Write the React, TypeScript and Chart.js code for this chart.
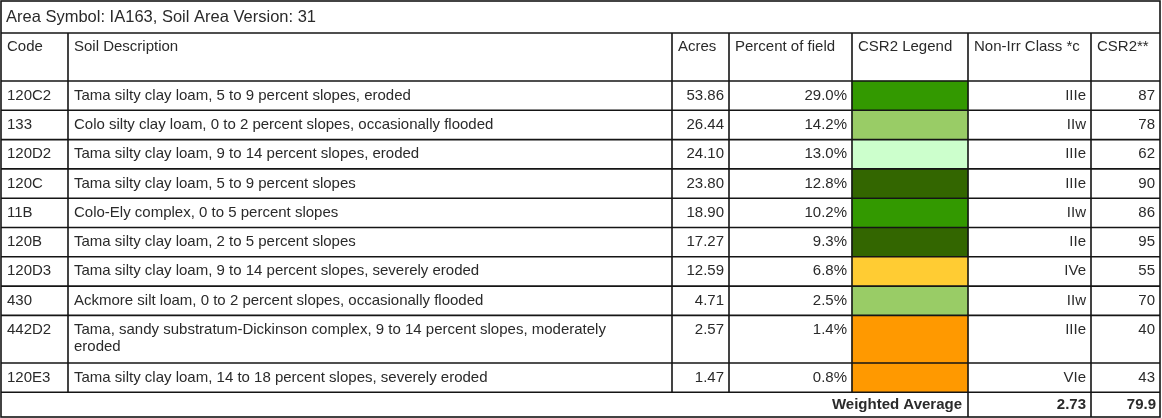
import React, { useEffect, useRef } from 'react';
import { Chart, registerables } from 'chart.js';

Chart.register(...registerables);

// ---------- data ----------
const title = 'Area Symbol: IA163, Soil Area Version: 31';
const headers = ['Code', 'Soil Description', 'Acres', 'Percent of field', 'CSR2 Legend', 'Non-Irr Class *c', 'CSR2**'];
const codes = ['120C2', '133', '120D2', '120C', '11B', '120B', '120D3', '430', '442D2', '120E3'];
const descriptions = [
  'Tama silty clay loam, 5 to 9 percent slopes, eroded',
  'Colo silty clay loam, 0 to 2 percent slopes, occasionally flooded',
  'Tama silty clay loam, 9 to 14 percent slopes, eroded',
  'Tama silty clay loam, 5 to 9 percent slopes',
  'Colo-Ely complex, 0 to 5 percent slopes',
  'Tama silty clay loam, 2 to 5 percent slopes',
  'Tama silty clay loam, 9 to 14 percent slopes, severely eroded',
  'Ackmore silt loam, 0 to 2 percent slopes, occasionally flooded',
  'Tama, sandy substratum-Dickinson complex, 9 to 14 percent slopes, moderately eroded',
  'Tama silty clay loam, 14 to 18 percent slopes, severely eroded',
];
const acres = [53.86, 26.44, 24.1, 23.8, 18.9, 17.27, 12.59, 4.71, 2.57, 1.47];
const percentOfField = [29.0, 14.2, 13.0, 12.8, 10.2, 9.3, 6.8, 2.5, 1.4, 0.8];
const nonIrrClass = ['IIIe', 'IIw', 'IIIe', 'IIIe', 'IIw', 'IIe', 'IVe', 'IIw', 'IIIe', 'VIe'];
const csr2 = [87, 78, 62, 90, 86, 95, 55, 70, 40, 43];
const weightedLabel = 'Weighted Average';
const weightedClass = 2.73;
const weightedCsr2 = 79.9;

// ---------- styling / layout ----------
const W = 1162;
const H = 418;
const FONT = '"Liberation Sans", Arial, Helvetica, sans-serif';
const FONT_SIZE = 15;
const TITLE_FONT_SIZE = 16.5;
const TEXT_COLOR = '#2a2a2a';
const LINE_COLOR = '#151515';
const colEdges = [1, 68, 672, 729, 852, 968, 1091, 1160];
const colAlign: ('left' | 'right')[] = ['left', 'left', 'right', 'right', 'left', 'right', 'right'];
const TOP = 1;
const TITLE_H = 32;
const HEAD_H = 48;
const ROW_H = 29.3;
const LINE_H = 18.3;
const BOTTOM = 417;
const PAD_L = 6;
const PAD_R = 5;
const TEXT_OFFSET = 14.5;
const DESC_WRAP = 545;

function legendColor(v: number): string {
  if (v >= 88) return '#336600';
  if (v >= 80) return '#339900';
  if (v >= 65) return '#99cc66';
  if (v >= 60) return '#ccffcc';
  if (v >= 50) return '#ffcc33';
  return '#ff9900';
}

function wrap(ctx: CanvasRenderingContext2D, text: string, maxW: number): string[] {
  const words = text.split(' ');
  const lines: string[] = [];
  let cur = '';
  for (const w of words) {
    const test = cur ? cur + ' ' + w : w;
    if (cur && ctx.measureText(test).width > maxW) {
      lines.push(cur);
      cur = w;
    } else {
      cur = test;
    }
  }
  if (cur) lines.push(cur);
  return lines;
}

export default function App() {
  const ref = useRef<HTMLCanvasElement | null>(null);

  useEffect(() => {
    const canvas = ref.current;
    if (!canvas) return;
    const mctx = canvas.getContext('2d')!;
    mctx.font = `${FONT_SIZE}px ${FONT}`;
    const descLines = descriptions.map((d) => wrap(mctx, d, DESC_WRAP));

    const headTop = TOP + TITLE_H;
    const bodyTop = headTop + HEAD_H;
    const rowTops: number[] = [];
    const rowBottoms: number[] = [];
    let y = bodyTop;
    descLines.forEach((lines) => {
      rowTops.push(y);
      y += ROW_H + (lines.length - 1) * LINE_H;
      rowBottoms.push(y);
    });
    const bodyBottom = y;

    const legendLeft = colEdges[4];
    const legendRight = colEdges[5];

    const tablePlugin = {
      id: 'tablePlugin',
      beforeDraw(chart: Chart) {
        const c = chart.ctx;
        c.save();
        c.fillStyle = '#ffffff';
        c.fillRect(0, 0, W, H);
        c.restore();
      },
      afterDatasetsDraw(chart: Chart) {
        const c = chart.ctx;
        c.save();
        // text
        c.fillStyle = TEXT_COLOR;
        c.textBaseline = 'middle';
        const put = (txt: string, col: number, yy: number) => {
          if (colAlign[col] === 'left') {
            c.textAlign = 'left';
            c.fillText(txt, colEdges[col] + PAD_L, yy);
          } else {
            c.textAlign = 'right';
            c.fillText(txt, colEdges[col + 1] - PAD_R, yy);
          }
        };
        c.font = `${TITLE_FONT_SIZE}px ${FONT}`;
        c.textAlign = 'left';
        c.fillText(title, colEdges[0] + PAD_L - 1, TOP + TITLE_H / 2 + 0.5);
        c.font = `${FONT_SIZE}px ${FONT}`;
        headers.forEach((h, i) => {
          c.textAlign = 'left';
          c.fillText(h, colEdges[i] + PAD_L, headTop + TEXT_OFFSET - 1);
        });
        codes.forEach((code, i) => {
          const ty = rowTops[i] + TEXT_OFFSET;
          put(code, 0, ty);
          descLines[i].forEach((ln, k) => put(ln, 1, ty + k * LINE_H * 0.92));
          put(acres[i].toFixed(2), 2, ty);
          put(percentOfField[i].toFixed(1) + '%', 3, ty);
          put(nonIrrClass[i], 5, ty);
          put(String(csr2[i]), 6, ty);
        });
        const wy = (bodyBottom + BOTTOM) / 2 + 0.5;
        c.font = `bold ${FONT_SIZE}px ${FONT}`;
        c.textAlign = 'right';
        c.fillText(weightedLabel, colEdges[5] - PAD_R - 1, wy);
        c.fillText(weightedClass.toFixed(2), colEdges[6] - PAD_R, wy);
        c.fillText(weightedCsr2.toFixed(1), colEdges[7] - PAD_R + 1, wy);

        // grid lines
        c.strokeStyle = LINE_COLOR;
        c.lineWidth = 1.6;
        const hl = (yy: number, x1 = colEdges[0], x2 = colEdges[7]) => {
          c.beginPath();
          c.moveTo(x1, yy);
          c.lineTo(x2, yy);
          c.stroke();
        };
        const vl = (xx: number, y1: number, y2: number) => {
          c.beginPath();
          c.moveTo(xx, y1);
          c.lineTo(xx, y2);
          c.stroke();
        };
        c.strokeRect(colEdges[0], TOP, colEdges[7] - colEdges[0], BOTTOM - TOP);
        hl(headTop);
        hl(bodyTop);
        rowBottoms.forEach((b) => hl(b));
        for (let i = 1; i < colEdges.length - 1; i++) vl(colEdges[i], headTop, bodyBottom);
        vl(colEdges[5], bodyBottom, BOTTOM);
        vl(colEdges[6], bodyBottom, BOTTOM);
        c.restore();
      },
    };

    const chart = new Chart(canvas, {
      type: 'bar',
      data: {
        datasets: [
          {
            label: 'CSR2 Legend',
            data: codes.map((_, i) => ({ x: (legendLeft + legendRight) / 2, y: [rowTops[i], rowBottoms[i]] })) as any,
            backgroundColor: csr2.map(legendColor),
            borderWidth: 0,
            barThickness: legendRight - legendLeft,
          },
        ],
      },
      options: {
        animation: false,
        responsive: false,
        maintainAspectRatio: false,
        layout: { padding: 0 },
        events: [],
        scales: {
          x: { type: 'linear', min: 0, max: W, offset: false, display: false },
          y: { type: 'linear', min: 0, max: H, reverse: true, offset: false, display: false },
        },
        plugins: {
          legend: { display: false },
          tooltip: { enabled: false },
        },
      },
      plugins: [tablePlugin as any],
    });
    return () => chart.destroy();
  }, []);

  return (
    <div style={{ position: 'absolute', left: 0, top: 0, width: W, height: H, background: '#fff' }}>
      <canvas ref={ref} width={W} height={H} style={{ display: 'block', width: W, height: H }} />
    </div>
  );
}
